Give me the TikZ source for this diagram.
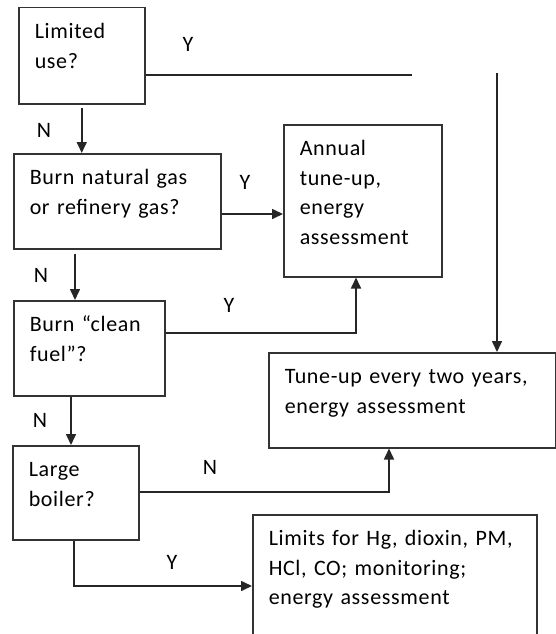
\documentclass[tikz,border=0pt]{standalone}
\usepackage{fontspec}
\setmainfont{Carlito}[LetterSpace=3]
\usetikzlibrary{arrows.meta}
\tikzstyle{bx}=[draw=black!80, line width=1.5pt, anchor=north west, align=left, inner xsep=16pt, inner ysep=0pt, text height=31pt, font=\fontsize{22}{29.5}\selectfont]
\tikzstyle{ln}=[draw=black!85, line width=1.6pt]
\tikzstyle{ar}=[ln, -{Triangle[length=11pt,width=10pt]}]
\tikzstyle{yn}=[font=\fontsize{22}{29.5}\selectfont]

\begin{document}
\begin{tikzpicture}[x=1pt, y=-1pt]
\useasboundingbox (0,0) rectangle (556,634);
\clip (0,0) rectangle (556,634);

\node[bx, text width=94pt, text depth=65pt] (lim) at (18,7) {Limited\\use?};
\node[bx, text width=175pt, text depth=64pt] (gas) at (13,153) {Burn natural gas\\or refinery gas?};
\node[bx, text width=126pt, text depth=121pt] (ann) at (283,124) {Annual\\tune-up,\\energy\\assessment};
\node[bx, text width=119pt, text depth=64pt] (cln) at (13,300) {Burn “clean\\fuel”?};
\node[bx, text width=255pt, text depth=64pt] (tun) at (268,352) {Tune-up every two years,\\energy assessment};
\node[bx, text width=94pt, text depth=63pt] (lrg) at (12,445) {Large\\boiler?};
\node[bx, text width=252pt, text depth=99pt] (lmt) at (252,514) {Limits for Hg, dioxin, PM,\\HCl, CO; monitoring;\\energy assessment};

\coordinate (yend) at (412,75);
\coordinate (ytop) at (497,73);

\draw[ln] ([yshift=-68pt]lim.north east) -- (yend);
\draw[ar] (ytop) -- (ytop |- tun.north);
\draw[ar] ([yshift=-3pt]lim.south) -- (lim.south |- gas.north);
\draw[ar] ([yshift=-61pt]gas.north east) coordinate (g1) -- (g1 -| ann.west);
\draw[ar] ([xshift=62pt,yshift=-4pt]gas.south west) coordinate (g2) -- (g2 |- cln.north);
\draw[ar] ([yshift=-33pt]cln.north east) -| ([xshift=73pt]ann.south west);
\draw[ar] ([xshift=58pt]cln.south west) coordinate (c1) -- (c1 |- lrg.north);
\draw[ar] ([yshift=-47pt]lrg.north east) -| ([xshift=121pt]tun.south west);
\draw[ar] ([xshift=62pt]lrg.south west) |- ([yshift=-72pt]lmt.north west);

\node[yn] (y1) at (188,44) {Y};
\node[yn] (n1) at (44,130) {N};
\node[yn] (y2) at (245,182) {Y};
\node[yn] (n2) at (41,275) {N};
\node[yn] (y3) at (229,305) {Y};
\node[yn] (n3) at (40,420) {N};
\node[yn] (n4) at (210,467) {N};
\node[yn] (y4) at (172,562) {Y};

\end{tikzpicture}
\end{document}
